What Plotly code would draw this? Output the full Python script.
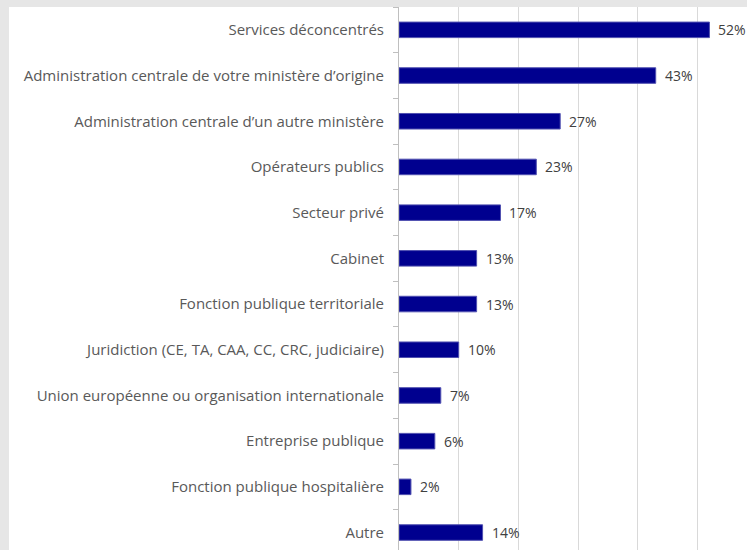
import plotly.graph_objects as go

categories = [
    "Services déconcentrés",
    "Administration centrale de votre ministère d’origine",
    "Administration centrale d’un autre ministère",
    "Opérateurs publics",
    "Secteur privé",
    "Cabinet",
    "Fonction publique territoriale",
    "Juridiction (CE, TA, CAA, CC, CRC, judiciaire)",
    "Union européenne ou organisation internationale",
    "Entreprise publique",
    "Fonction publique hospitalière",
    "Autre",
]
values = [52, 43, 27, 23, 17, 13, 13, 10, 7, 6, 2, 14]
value_labels = [f"{v}%" for v in values]

W, H = 747, 550
ML, MT = 399, 7
plot_w = W - ML
band = 45.7
px_per_unit = 5.97

fig = go.Figure(
    go.Bar(
        x=values,
        y=categories,
        orientation="h",
        marker=dict(color="#00008f", line=dict(color="#5050b0", width=1)),
        width=0.34,
        hoverinfo="x+y",
    )
)

for c, v, t in zip(categories, values, value_labels):
    fig.add_annotation(
        x=v, y=c, xref="x", yref="y", text=t, showarrow=False,
        xanchor="left", yanchor="middle", xshift=7,
        font=dict(family="Open Sans", size=14, color="#404040"),
    )

fig.update_layout(
    width=W,
    height=H,
    autosize=False,
    margin=dict(l=ML, r=0, t=MT, b=0, pad=0),
    paper_bgcolor="#e6e6e6",
    plot_bgcolor="#ffffff",
    showlegend=False,
    font=dict(family="Open Sans", size=15, color="#595959"),
    shapes=[
        dict(
            type="rect", xref="paper", yref="paper",
            x0=-(ML - 9) / plot_w, x1=1, y0=0, y1=1,
            fillcolor="#ffffff", line=dict(width=0), layer="below",
        )
    ],
)

fig.update_xaxes(
    range=[0, plot_w / px_per_unit],
    dtick=10,
    showticklabels=False,
    showgrid=True,
    gridcolor="#d9d9d9",
    gridwidth=1,
    zeroline=False,
    showline=False,
    ticks="",
    automargin=False,
)

fig.update_yaxes(
    categoryorder="array",
    categoryarray=categories,
    range=[(H - MT) / band - 0.5, -0.5],
    showline=True,
    linecolor="#bfbfbf",
    linewidth=1,
    ticks="outside",
    tickson="boundaries",
    ticklen=5,
    tickcolor="#bfbfbf",
    ticklabelstandoff=11,
    showgrid=False,
    zeroline=False,
    automargin=False,
)

fig.write_html(
    "out.html",
    config={"displayModeBar": False},
    post_script="document.body.style.margin='0';document.body.style.overflow='hidden';",
)
